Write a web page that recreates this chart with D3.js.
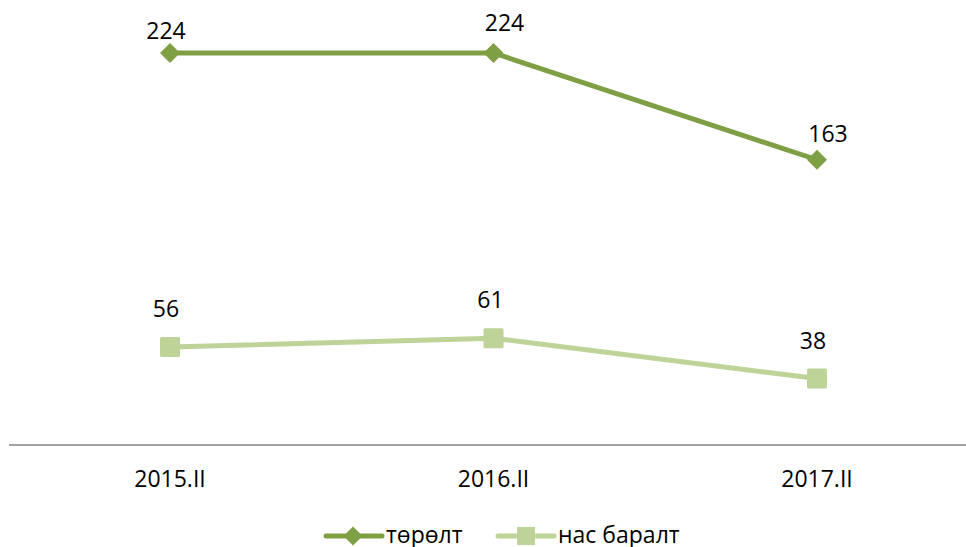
<!DOCTYPE html>
<html>
<head>
    <meta charset="utf-8">
    <title>төрөлт, нас баралт</title>
    <script src="https://cdn.jsdelivr.net/npm/d3@7"></script>
    <style>
        body { margin: 0; background: #fff; }
        text { font-family: "Open Sans", "Noto Sans", sans-serif; fill: #000; }
    </style>
</head>
<body>
<script>
    // data
    var periods = ["2015.II", "2016.II", "2017.II"];
    var birthValues = [224, 224, 163];
    var deathValues = [56, 61, 38];
    var seriesNames = ["төрөлт", "нас баралт"];

    // hand nudges for data labels (dx, dy relative to marker)
    var birthLabelNudge = [[-4, -14], [11, -22], [11, -18]];
    var deathLabelNudge = [[-4, -30], [-3, -30], [-4, -30]];

    var width = 966, height = 547;
    var darkGreen = "#7F9F45", lightGreen = "#BDD398";

    var svg = d3.select("body").append("svg")
        .attr("width", width)
        .attr("height", height);

    var x = d3.scalePoint()
        .domain(periods)
        .range([170, 817]);

    var y = d3.scaleLinear()
        .domain([0, 250])
        .range([445, 7.5]);

    // category axis
    svg.append("line")
        .attr("x1", 9).attr("x2", width)
        .attr("y1", y(0)).attr("y2", y(0))
        .attr("stroke", "#a3a3a3")
        .attr("stroke-width", 2);

    svg.selectAll("text.cat")
        .data(periods)
        .enter().append("text")
        .attr("class", "cat")
        .attr("x", function (d) { return x(d); })
        .attr("y", 487)
        .attr("text-anchor", "middle")
        .style("font-size", "23px")
        .text(function (d) { return d; });

    function diamond(r) {
        return "M0," + (-r) + "L" + r + ",0L0," + r + "L" + (-r) + ",0Z";
    }

    function drawSeries(values, color, marker, nudge) {
        var line = d3.line()
            .x(function (d, i) { return x(periods[i]); })
            .y(function (d) { return y(d); });

        svg.append("path")
            .datum(values)
            .attr("fill", "none")
            .attr("stroke", color)
            .attr("stroke-width", 5)
            .attr("stroke-linejoin", "round")
            .attr("d", line);

        var g = svg.append("g");
        values.forEach(function (v, i) {
            var cx = x(periods[i]), cy = y(v);
            if (marker === "diamond") {
                g.append("path")
                    .attr("transform", "translate(" + cx + "," + cy + ")")
                    .attr("d", diamond(10))
                    .attr("fill", color);
            } else {
                g.append("rect")
                    .attr("x", cx - 10).attr("y", cy - 10)
                    .attr("width", 20).attr("height", 20)
                    .attr("rx", 1.5)
                    .attr("fill", color);
            }
            g.append("text")
                .attr("x", cx + nudge[i][0])
                .attr("y", cy + nudge[i][1])
                .attr("text-anchor", "middle")
                .style("font-size", "23px")
                .text(v);
        });
    }

    drawSeries(birthValues, darkGreen, "diamond", birthLabelNudge);
    drawSeries(deathValues, lightGreen, "square", deathLabelNudge);

    // legend
    var legend = [
        { name: seriesNames[0], color: darkGreen, marker: "diamond", x: 326 },
        { name: seriesNames[1], color: lightGreen, marker: "square", x: 498 }
    ];
    var ly = 536;
    legend.forEach(function (l) {
        svg.append("line")
            .attr("x1", l.x).attr("x2", l.x + 56)
            .attr("y1", ly).attr("y2", ly)
            .attr("stroke", l.color)
            .attr("stroke-width", 5)
            .attr("stroke-linecap", "round");
        if (l.marker === "diamond") {
            svg.append("path")
                .attr("transform", "translate(" + (l.x + 27) + "," + ly + ")")
                .attr("d", diamond(9.5))
                .attr("fill", l.color);
        } else {
            svg.append("rect")
                .attr("x", l.x + 28 - 9).attr("y", ly - 9)
                .attr("width", 18).attr("height", 18)
                .attr("fill", l.color);
        }
        svg.append("text")
            .attr("x", l.x + 60)
            .attr("y", 543)
            .style("font-size", "23px")
            .text(l.name);
    });
</script>
</body>
</html>
